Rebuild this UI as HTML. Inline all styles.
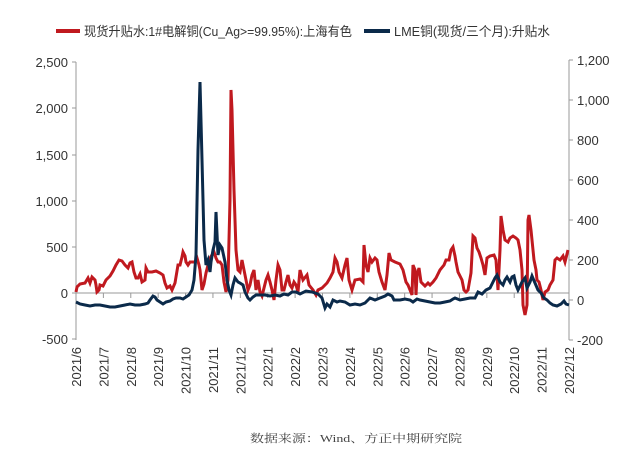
<!DOCTYPE html>
<html><head><meta charset="utf-8"><style>
body{margin:0;background:#fff;}
text{font-family:"Liberation Sans","Noto Sans CJK SC",sans-serif;}
</style></head><body>
<svg width="644" height="460" xmlns="http://www.w3.org/2000/svg">
<rect width="644" height="460" fill="#fff"/>
<!-- legend -->
<line x1="56" y1="31" x2="80" y2="31" stroke="#c0191f" stroke-width="4"/>
<text x="84" y="36" font-size="13" fill="#333" textLength="268" lengthAdjust="spacingAndGlyphs">现货升贴水:1#电解铜(Cu_Ag&gt;=99.95%):上海有色</text>
<line x1="364" y1="31" x2="390" y2="31" stroke="#0b2a4a" stroke-width="4"/>
<text x="394" y="36" font-size="13" fill="#333" textLength="156" lengthAdjust="spacingAndGlyphs">LME铜(现货/三个月):升贴水</text>
<!-- axes -->
<g stroke="#999" stroke-width="1">
<line x1="76" y1="62" x2="76" y2="340"/>
<line x1="569" y1="60" x2="569" y2="340"/>
<line x1="76" y1="293" x2="569" y2="293"/>
<line x1="72" y1="62" x2="76" y2="62"/><line x1="72" y1="108" x2="76" y2="108"/><line x1="72" y1="155" x2="76" y2="155"/><line x1="72" y1="201" x2="76" y2="201"/><line x1="72" y1="247" x2="76" y2="247"/><line x1="72" y1="293" x2="76" y2="293"/><line x1="72" y1="339" x2="76" y2="339"/>
<line x1="569" y1="60" x2="573" y2="60"/><line x1="569" y1="100" x2="573" y2="100"/><line x1="569" y1="140" x2="573" y2="140"/><line x1="569" y1="180" x2="573" y2="180"/><line x1="569" y1="220" x2="573" y2="220"/><line x1="569" y1="260" x2="573" y2="260"/><line x1="569" y1="300" x2="573" y2="300"/><line x1="569" y1="340" x2="573" y2="340"/>
</g>
<g stroke="#999" stroke-width="1" id="mt"></g>
<g font-size="13" fill="#333" text-anchor="end">
<text x="68" y="67">2,500</text><text x="68" y="113">2,000</text><text x="68" y="160">1,500</text><text x="68" y="206">1,000</text><text x="68" y="252">500</text><text x="68" y="298">0</text><text x="68" y="344">-500</text>
</g>
<g font-size="13" fill="#333" text-anchor="start">
<text x="577" y="65">1,200</text><text x="577" y="105">1,000</text><text x="577" y="145">800</text><text x="577" y="185">600</text><text x="577" y="225">400</text><text x="577" y="265">200</text><text x="577" y="305">0</text><text x="577" y="345">-200</text>
</g>
<g id="xl" font-size="13" fill="#333"></g>
<polyline fill="none" stroke="#c0191f" stroke-width="3" stroke-linejoin="miter" points="76,292 77,287 80,284 85,283 88,278 90,283 92,277 95,280 96,285 97,292 99,290 100,285 103,286 106,280 110,276 113,271 116,265 119,260 122,261 125,265 128,268 130,263 132,262 134,272 136,278 138,278 140,274 142,282 145,280 146,268 148,272 152,272 156,271 160,273 163,275 165,283 167,288 170,286 172,290 175,283 178,265 180,265 182,257 183,252 185,256 186,262 188,265 190,262 193,262 195,262 197,258 199,265 200,270 202,290 204,284 206,273 208,265 210,258 212,255 214,252 216,258 218,262 220,262 222,265 224,282 226,292 228,280 230,200 231,90 232,110 234,190 236,250 238,270 240,272 242,260 244,270 246,280 248,290 250,285 252,275 254,270 256,290 258,280 260,292 262,296 264,288 266,280 268,275 270,282 272,290 274,300 276,280 278,265 280,270 282,290 284,290 286,282 288,275 290,285 292,288 294,282 296,285 298,292 300,270 303,280 307,275 309,285 313,290 316,295 318,290 322,288 327,283 330,278 333,272 335,258 337,262 339,272 342,278 345,265 347,258 349,280 352,290 355,280 360,279 363,282 364,245 366,265 368,272 370,258 372,262 375,258 377,260 379,272 382,282 385,290 387,275 389,253 391,260 395,262 400,264 403,270 406,282 408,285 410,290 412,295 413,265 415,270 416,295 417,275 419,268 421,282 425,286 428,283 430,285 433,282 436,278 440,270 444,265 446,260 449,260 451,250 453,247 455,256 456,262 458,272 462,280 464,290 466,292 468,290 471,273 473,236 475,238 477,248 479,252 481,258 483,265 485,275 487,258 490,256 494,255 496,260 498,290 500,250 501,216 503,230 505,240 508,242 510,238 513,236 516,238 518,240 520,250 522,270 523,305 525,315 527,305 528,220 529,215 531,230 534,260 536,270 537,280 539,282 541,290 543,300 545,292 548,290 550,285 553,280 555,260 557,258 560,260 563,256 565,262 568,250"/>
<polyline fill="none" stroke="#0b2a4a" stroke-width="3" stroke-linejoin="miter" points="76,302 80,304 85,305 90,306 95,305 100,305 105,306 110,307 115,307 120,306 125,305 130,304 135,305 140,305 145,304 148,303 150,300 153,296 155,297 157,300 160,302 163,304 166,302 170,301 173,299 176,298 180,298 183,299 186,297 189,295 192,290 194,280 196,255 198,150 200,82 202,160 204,240 206,265 208,260 210,272 211,262 213,250 215,242 216,212 218,255 220,245 222,248 225,262 227,280 229,290 231,295 233,285 235,278 238,282 240,283 243,285 245,292 248,298 250,300 253,297 256,295 260,295 265,295 270,296 275,295 280,296 284,294 288,295 292,292 296,292 300,294 306,291 312,292 318,294 322,298 325,308 327,304 330,307 333,300 337,302 340,301 345,302 350,305 355,304 360,305 365,303 368,300 370,298 375,300 380,298 385,296 388,294 392,296 394,300 400,300 405,299 410,300 413,302 417,299 420,300 425,301 430,302 435,303 440,303 445,302 450,301 453,299 455,298 460,300 465,299 470,298 475,298 478,292 482,294 486,290 490,288 493,282 495,278 497,275 500,282 503,285 505,280 507,277 510,282 512,277 514,276 516,285 518,290 522,282 525,278 527,288 530,282 532,276 535,283 538,290 541,293 544,298 547,300 550,303 553,305 557,306 561,304 564,301 566,304 569,305"/>
<text x="356" y="442" font-size="11" fill="#444" text-anchor="middle" textLength="212" lengthAdjust="spacingAndGlyphs" style="font-family:'Liberation Serif','Noto Serif CJK SC',serif">数据来源：Wind、方正中期研究院</text>
<script>
var mt=document.getElementById('mt'),xl=document.getElementById('xl');
var labels=["2021/6","2021/7","2021/8","2021/9","2021/10","2021/11","2021/12","2022/1","2022/2","2022/3","2022/4","2022/5","2022/6","2022/7","2022/8","2022/9","2022/10","2022/11","2022/12"];
var ns="http://www.w3.org/2000/svg";
for(var i=0;i<19;i++){var x=76+i*493/18;
var l=document.createElementNS(ns,'line');l.setAttribute('x1',x);l.setAttribute('x2',x);l.setAttribute('y1',293);l.setAttribute('y2',298);mt.appendChild(l);
var t=document.createElementNS(ns,'text');t.setAttribute('transform','translate('+(x+5)+',347) rotate(-90)');t.setAttribute('text-anchor','end');t.textContent=labels[i];xl.appendChild(t);}
</script>
</svg>
</body></html>
